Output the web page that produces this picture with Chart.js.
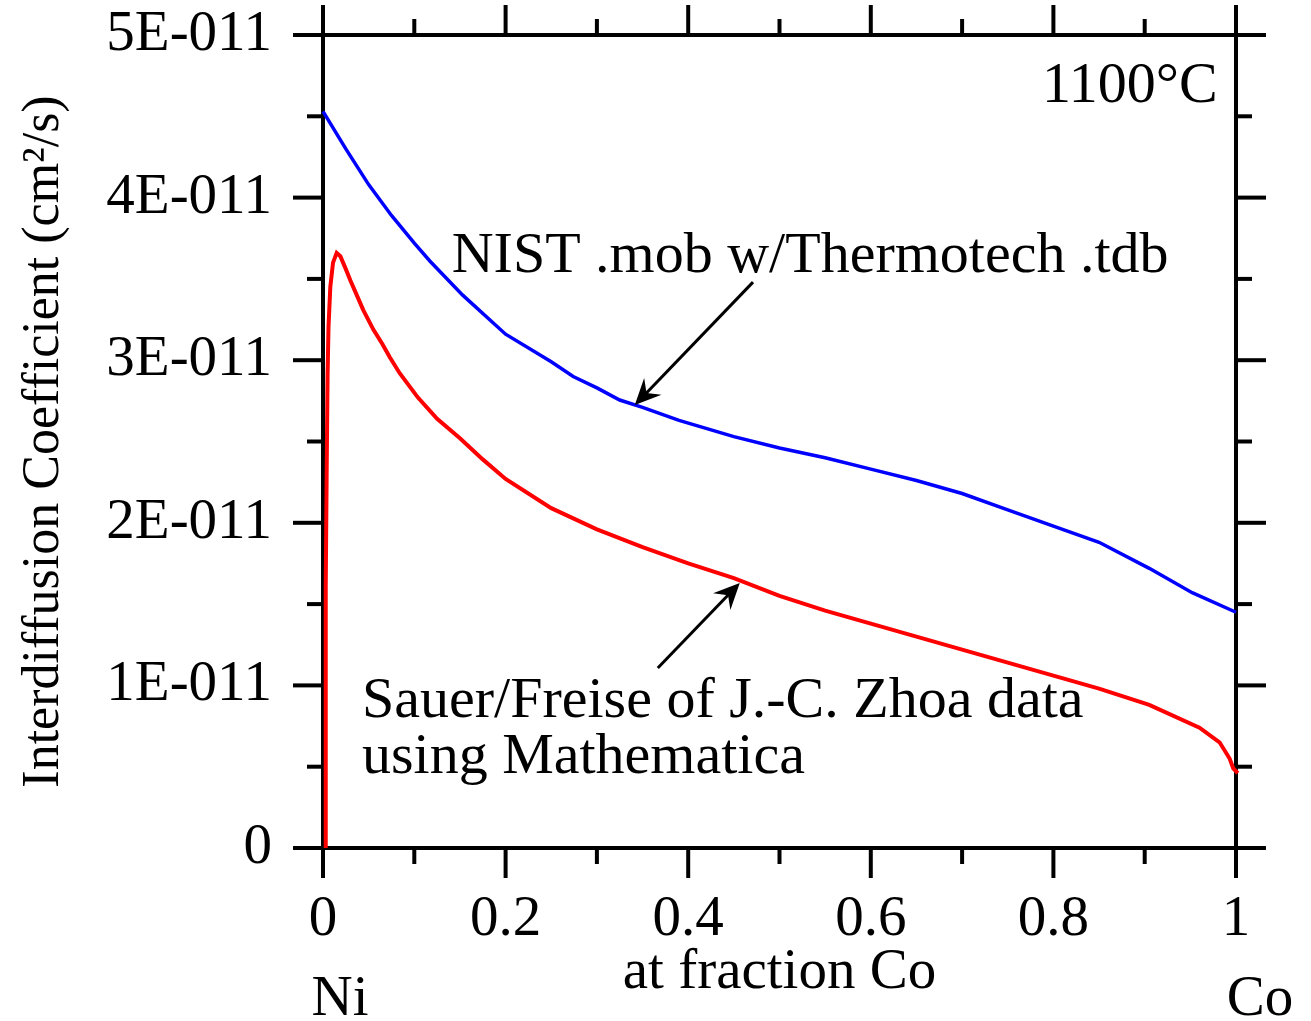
<!DOCTYPE html>
<html lang="en">

<head>
    <meta charset="UTF-8">
    <title>Interdiffusion Coefficient Ni-Co 1100°C</title>
    <script src="https://cdn.jsdelivr.net/npm/chart.js"></script>
    <style>
        body {
            margin: 0;
            padding: 0;
            background-color: #ffffff;
        }

        .chart-container {
            position: relative;
            width: 1311px;
            height: 1021px;
        }
    </style>
</head>

<body>
    <div class="chart-container">
        <canvas id="diffChart"></canvas>
    </div>

    <script>
        // at fraction Co / D in units of 1E-011 cm2/s
        const nistX = [0, 0.025, 0.05, 0.075, 0.1, 0.117, 0.153, 0.2, 0.25, 0.274, 0.3, 0.325, 0.35, 0.39, 0.45, 0.5, 0.55, 0.6, 0.65, 0.7, 0.75, 0.8, 0.85, 0.905, 0.952, 1.0];
        const nistD = [4.53, 4.30, 4.08, 3.89, 3.72, 3.61, 3.40, 3.16, 2.99, 2.90, 2.83, 2.755, 2.71, 2.63, 2.53, 2.46, 2.40, 2.33, 2.26, 2.18, 2.08, 1.98, 1.88, 1.72, 1.57, 1.45];

        const sauerX = [0.003, 0.003, 0.003, 0.004, 0.005, 0.006, 0.008, 0.011, 0.015, 0.019, 0.025, 0.03, 0.037, 0.044, 0.055, 0.065, 0.073, 0.084, 0.104, 0.125, 0.15, 0.175, 0.2, 0.25, 0.3, 0.35, 0.4, 0.45, 0.5, 0.55, 0.6, 0.65, 0.7, 0.75, 0.8, 0.85, 0.905, 0.96, 0.982, 0.993, 0.997, 1.002, 1.002];
        const sauerD = [0, 0.8, 1.6, 2.3, 2.9, 3.2, 3.45, 3.6, 3.66, 3.64, 3.56, 3.49, 3.40, 3.31, 3.19, 3.10, 3.02, 2.92, 2.77, 2.64, 2.52, 2.39, 2.27, 2.09, 1.96, 1.85, 1.75, 1.66, 1.55, 1.46, 1.38, 1.30, 1.22, 1.14, 1.06, 0.98, 0.88, 0.74, 0.65, 0.55, 0.49, 0.46, 0];

        const xTickVals = [0, 0.2, 0.4, 0.6, 0.8, 1];
        const xMinorVals = [0.1, 0.3, 0.5, 0.7, 0.9];
        const yTickVals = [0, 1, 2, 3, 4, 5];
        const yMinorVals = [0.5, 1.5, 2.5, 3.5, 4.5];

        const serif = "'Liberation Serif', 'Times New Roman', serif";
        const toPoints = (xs, ys) => xs.map((v, i) => ({ x: v, y: ys[i] }));

        // рамка и засечки со всех четырёх сторон
        const framePlugin = {
            id: 'frame',
            beforeDatasetsDraw(chart) {
                const { ctx, chartArea: a, scales: { x, y } } = chart;
                const seg = (x1, y1, x2, y2) => {
                    ctx.beginPath();
                    ctx.moveTo(x1, y1);
                    ctx.lineTo(x2, y2);
                    ctx.stroke();
                };
                ctx.save();
                ctx.strokeStyle = '#000';
                ctx.lineWidth = 4;
                ctx.strokeRect(a.left, a.top, a.right - a.left, a.bottom - a.top);
                const major = 30, minor = 16;
                xTickVals.forEach(v => {
                    const px = x.getPixelForValue(v);
                    seg(px, a.bottom, px, a.bottom + major);
                    seg(px, a.top, px, a.top - major);
                });
                xMinorVals.forEach(v => {
                    const px = x.getPixelForValue(v);
                    seg(px, a.bottom, px, a.bottom + minor);
                    seg(px, a.top, px, a.top - minor);
                });
                yTickVals.forEach(v => {
                    const py = y.getPixelForValue(v);
                    seg(a.left - major, py, a.left, py);
                    seg(a.right, py, a.right + major, py);
                });
                yMinorVals.forEach(v => {
                    const py = y.getPixelForValue(v);
                    seg(a.left - minor, py, a.left, py);
                    seg(a.right, py, a.right + minor, py);
                });
                ctx.restore();
            }
        };

        // подписи и стрелки
        const notesPlugin = {
            id: 'notes',
            afterDatasetsDraw(chart) {
                const { ctx, scales: { x, y } } = chart;
                const arrow = (x1, y1, x2, y2) => {
                    const ax = x.getPixelForValue(x1), ay = y.getPixelForValue(y1);
                    const bx = x.getPixelForValue(x2), by = y.getPixelForValue(y2);
                    const c = Math.cos(Math.atan2(by - ay, bx - ax)), s = Math.sin(Math.atan2(by - ay, bx - ax));
                    ctx.beginPath();
                    ctx.moveTo(ax, ay);
                    ctx.lineTo(bx - 14 * c, by - 14 * s);
                    ctx.stroke();
                    const L = 26, W = 12;
                    ctx.beginPath();
                    ctx.moveTo(bx, by);
                    ctx.lineTo(bx - L * c - W * s, by - L * s + W * c);
                    ctx.lineTo(bx - 0.65 * L * c, by - 0.65 * L * s);
                    ctx.lineTo(bx - L * c + W * s, by - L * s - W * c);
                    ctx.closePath();
                    ctx.fill();
                };
                ctx.save();
                ctx.fillStyle = '#000';
                ctx.strokeStyle = '#000';
                ctx.lineWidth = 3;
                ctx.font = '58px ' + serif;
                ctx.textBaseline = 'alphabetic';

                ctx.textAlign = 'right';
                ctx.fillText('1100°C', x.getPixelForValue(0.98), y.getPixelForValue(4.59));

                ctx.textAlign = 'left';
                ctx.fillText('NIST .mob w/Thermotech .tdb', x.getPixelForValue(0.141), y.getPixelForValue(3.54));
                ctx.fillText('Sauer/Freise of J.-C. Zhoa data', x.getPixelForValue(0.0427), y.getPixelForValue(0.806));
                ctx.fillText('using Mathematica', x.getPixelForValue(0.0427), y.getPixelForValue(0.461));

                arrow(0.471, 3.48, 0.3415, 2.724);
                arrow(0.3667, 1.107, 0.4565, 1.63);

                // Ni и Co под крайними делениями
                ctx.font = '57px ' + serif;
                ctx.textAlign = 'center';
                ctx.fillText('Ni', x.getPixelForValue(0) + 17, 1015);
                ctx.fillText('Co', x.getPixelForValue(1) + 24, 1015);
                ctx.restore();
            }
        };

        const data = {
            datasets: [
                {
                    label: 'NIST .mob w/Thermotech .tdb',
                    data: toPoints(nistX, nistD),
                    borderColor: '#0000ff',
                    borderWidth: 3.5,
                    pointRadius: 0,
                    tension: 0,
                    clip: false
                },
                {
                    label: 'Sauer/Freise of J.-C. Zhoa data using Mathematica',
                    data: toPoints(sauerX, sauerD),
                    borderColor: '#ff0000',
                    borderWidth: 4,
                    pointRadius: 0,
                    tension: 0,
                    clip: false
                }
            ]
        };

        const options = {
            responsive: true,
            maintainAspectRatio: false,
            animation: false,
            layout: {
                padding: { left: 0, top: 35, right: 75, bottom: 0 }
            },
            plugins: {
                legend: { display: false },
                tooltip: { enabled: false }
            },
            scales: {
                x: {
                    type: 'linear',
                    min: 0,
                    max: 1,
                    afterBuildTicks: s => { s.ticks = xTickVals.map(v => ({ value: v })); },
                    afterFit: s => {
                        s.height = 173;
                        s.paddingLeft = 0;
                        s.paddingRight = 0;
                    },
                    grid: { display: false, drawTicks: false },
                    border: { display: false },
                    ticks: {
                        color: '#000',
                        padding: 38,
                        maxRotation: 0,
                        autoSkip: false,
                        font: { family: serif, size: 57 },
                        callback: v => String(v)
                    },
                    title: {
                        display: true,
                        text: 'at fraction Co',
                        color: '#000',
                        font: { family: serif, size: 57 },
                        padding: { top: 0, bottom: 14 }
                    }
                },
                y: {
                    type: 'linear',
                    min: 0,
                    max: 5,
                    afterBuildTicks: s => { s.ticks = yTickVals.map(v => ({ value: v })); },
                    afterFit: s => {
                        s.width = 323;
                        s.paddingTop = 0;
                        s.paddingBottom = 0;
                    },
                    grid: { display: false, drawTicks: false },
                    border: { display: false },
                    ticks: {
                        color: '#000',
                        padding: 51,
                        font: { family: serif, size: 57 },
                        callback: v => (v === 0 ? '0' : v + 'E-011')
                    },
                    title: {
                        display: true,
                        text: 'Interdiffusion Coefficient (cm²/s)',
                        color: '#000',
                        font: { family: serif, size: 52 },
                        padding: { top: 13, bottom: 0 }
                    }
                }
            }
        };

        const ctx = document.getElementById('diffChart').getContext('2d');
        new Chart(ctx, {
            type: 'line',
            data: data,
            options: options,
            plugins: [framePlugin, notesPlugin]
        });
    </script>
</body>

</html>
